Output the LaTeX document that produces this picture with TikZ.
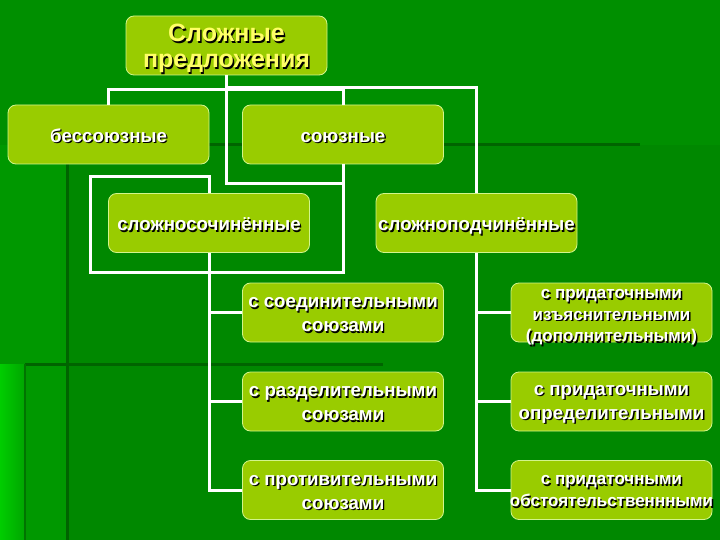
\documentclass[tikz,border=0pt]{standalone}
\usepackage{fontspec}
\setmainfont{Liberation Sans}
\usetikzlibrary{calc}
\definecolor{bgbase}{RGB}{0,136,0}
\definecolor{bgtop}{RGB}{0,143,0}
\definecolor{bgleft}{RGB}{0,152,0}
\definecolor{bgbright}{RGB}{0,205,0}
\definecolor{bgmid}{RGB}{0,165,0}
\definecolor{bgline}{RGB}{0,100,0}
\definecolor{boxfill}{RGB}{153,204,0}
\definecolor{boxline}{RGB}{210,245,140}
\definecolor{rootyellow}{RGB}{255,255,102}
\newcommand\fntA{\bfseries\fontsize{18.7}{24}\selectfont}
\newcommand\fntRoot{\bfseries\fontsize{25}{26}\selectfont}
\newcommand\fntS{\bfseries\fontsize{17}{21.5}\selectfont}
\newcommand\fntT{\bfseries\fontsize{17}{22}\selectfont}
\tikzset{
  box/.style={draw=boxline, line width=0.8pt, fill=boxfill, rounded corners=8pt,
    minimum width=201pt, minimum height=59pt, inner sep=0pt},
  txtbase/.style={align=center, inner sep=0pt},
  conn/.style={draw=white, line width=3pt},
  darkline/.style={draw=bgline, line width=3pt},
}
\newcommand\diabox[6][3]{%
  \node[box] (#2) at (#3) {};
  \node[txtbase,text=black,font=#4] (#2s) at ($(#2.center)+(1.4,#1+1.4)$) {#6};
  \node[txtbase,text=#5,font=#4] (#2t) at ($(#2.center)+(0,#1)$) {#6};
}
\begin{document}
\begin{tikzpicture}[x=1pt,y=-1pt]
\useasboundingbox (0,0) rectangle (720,540);
% background
\fill[bgbase] (0,0) rectangle (720,540);
\fill[bgtop] (0,0) rectangle (720,145);
\fill[bgleft] (0,145) rectangle (67,540);
\shade[left color=bgbright, right color=bgmid] (0,364) rectangle (25,540);
\draw[darkline] (67,145) -- (640,145);
\draw[darkline] (67,145) -- (67,540);
\draw[darkline] (25,364) -- (383,364);
\draw[darkline, line width=2pt, draw=bgline!70!bgleft] (25,364) -- (25,540);
% nodes
\diabox[4.3]{root}{226.5,45.5}{\fntRoot}{rootyellow}{\strut Сложные\\\strut предложения}
\diabox{bes}{108.5,134.5}{\fntA}{white}{\strut бессоюзные}
\diabox{soy}{343,134.5}{\fntA}{white}{\strut союзные}
\diabox{soch}{209,223}{\fntA}{white}{\strut сложносочинённые}
\diabox{podch}{476.5,223}{\fntA}{white}{\strut сложноподчинённые}
\diabox[2.4]{la}{343,312.5}{\fntA}{white}{\strut с соединительными\\\strut союзами}
\diabox[2.4]{lb}{343,401.5}{\fntA}{white}{\strut с разделительными\\\strut союзами}
\diabox[2.4]{lc}{343,490}{\fntA}{white}{\strut с противительными\\\strut союзами}
\diabox[3.5]{ra}{611.5,312.5}{\fntS}{white}{\strut с придаточными\\\strut изъяснительными\\\strut (дополнительными)}
\diabox[1]{rb}{611.5,401.5}{\fntA}{white}{\strut с придаточными\\\strut определительными}
\diabox[1.5]{rc}{611.5,490}{\fntT}{white}{\strut с придаточными\\\strut обстоятельственнными}
% connectors
\draw[conn] (root.south) -- ++(0,12) -| (podch.north);
\draw[conn] (bes.north) -- ++(0,-15) -| (soy.north);
\draw[conn] (root.south) -- ++(0,108) -| (soy.south);
\draw[conn] (soy.south) -- ++(0,108) -- ++(-253,0) -- ++(0,-96) -| (soch.north);
\draw[conn] (soch.south) |- (la.west);
\draw[conn] (soch.south) |- (lb.west);
\draw[conn] (soch.south) |- (lc.west);
\draw[conn] (podch.south) |- (ra.west);
\draw[conn] (podch.south) |- (rb.west);
\draw[conn] (podch.south) |- (rc.west);
\end{tikzpicture}
\end{document}
